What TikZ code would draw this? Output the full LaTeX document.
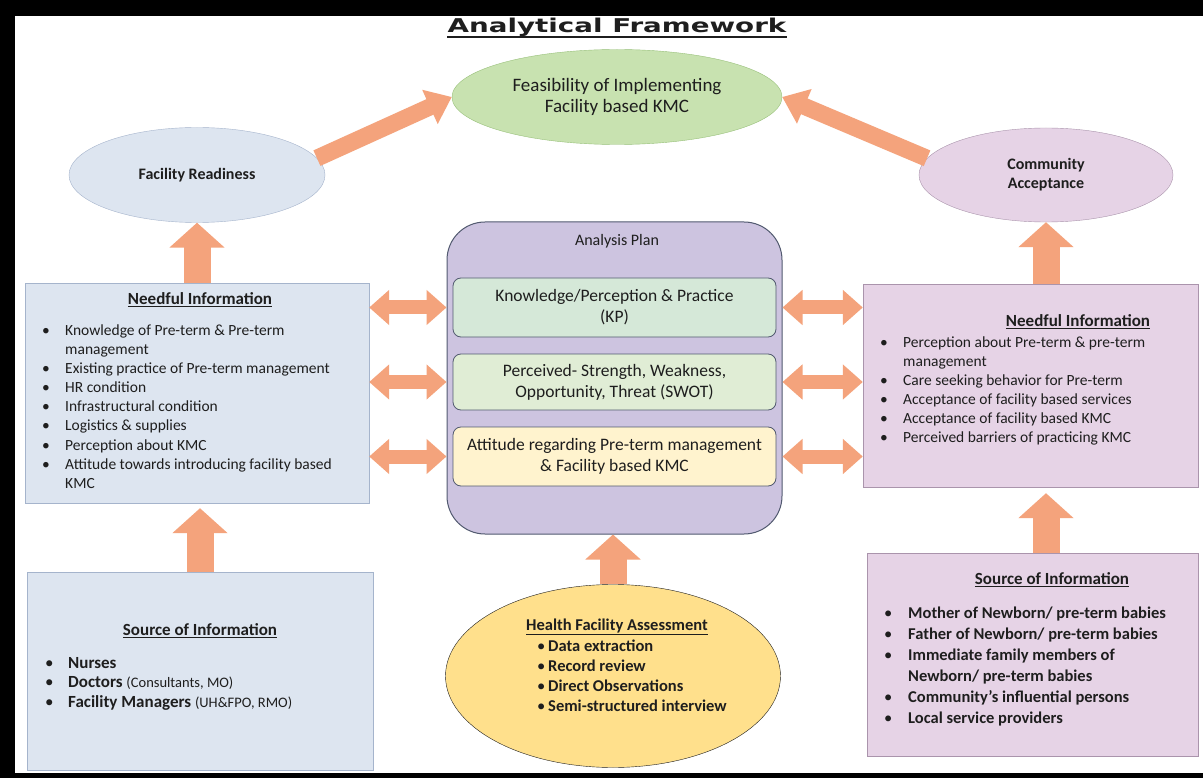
\documentclass[tikz,border=0pt]{standalone}
\usepackage{fontspec}
\setmainfont{Carlito}
\newfontfamily\titlefont{DejaVu Sans}
\usetikzlibrary{shapes.geometric,arrows.meta}

\definecolor{arrowfill}{RGB}{244,163,124}
\definecolor{bluefill}{RGB}{221,229,240}
\definecolor{blueline}{RGB}{165,180,204}
\definecolor{pinkfill}{RGB}{230,211,230}
\definecolor{pinkline}{RGB}{170,148,172}
\definecolor{greenfill}{RGB}{200,226,176}
\definecolor{greenline}{RGB}{152,192,122}
\definecolor{planfill}{RGB}{205,196,224}
\definecolor{planline}{RGB}{82,90,112}
\definecolor{kpfill}{RGB}{213,232,216}
\definecolor{swotfill}{RGB}{224,237,213}
\definecolor{attfill}{RGB}{255,243,206}
\definecolor{hfafill}{RGB}{255,224,140}
\definecolor{txt}{RGB}{30,30,30}

\newcommand{\bitem}[2][23pt]{\makebox[#1][l]{\mdseries\textbullet}#2}
\newcommand{\bcont}[2][23pt]{\hspace*{#1}#2}
\newcommand{\fs}[2]{\fontsize{#1}{#2}\selectfont}

\begin{document}
\begin{tikzpicture}[x=1pt, y=-1pt,
  oval/.style={ellipse, draw, inner sep=0pt, text=txt},
  infobox/.style={rectangle, draw, inner sep=0pt},
  planbox/.style={rectangle, rounded corners=8pt, draw=planline, line width=0.8pt, inner sep=0pt, minimum width=323pt, align=center, text=txt, font=\fs{17.5}{21}},
  words/.style={inner sep=0pt, text=txt},
  uparrow/.style={draw=arrowfill, line width=27pt, -{Triangle[length=25pt, width=54pt]}},
  slantarrow/.style={draw=arrowfill, line width=17pt, -{Triangle[length=24pt, width=36pt]}},
  twoway/.style={draw=arrowfill, line width=14pt, {Triangle[length=20pt, width=34pt]}-{Triangle[length=20pt, width=34pt]}}]

\useasboundingbox (0, 0) rectangle (1203, 778);

\fill[white] (0, 0) rectangle (1203, 778);

\fill[black] (0, 0) rectangle (1203, 16);

\fill[black] (0, 0) rectangle (15, 778);

\fill[black] (0, 773) rectangle (1203, 778);

\draw (617, 33) node[words, anchor=base, font=\titlefont\bfseries\fs{19}{21}] (title) {\scalebox{1.46}[1]{Analytical Framework}};

\draw[txt, line width=2.2pt] ([yshift=-4pt]title.base west) -- ([yshift=-4pt]title.base east);

\draw (617, 97) node[oval, fill=greenfill, draw=greenline, minimum width=330pt, minimum height=95pt, align=center, font=\fs{19}{21}] (feas) {Feasibility of Implementing\\Facility based KMC};

\draw (197, 175) node[oval, fill=bluefill, draw=blueline, minimum width=256pt, minimum height=95pt, font=\bfseries\fs{16}{20}] (fr) {Facility Readiness};

\draw (1046, 175) node[oval, fill=pinkfill, draw=pinkline, minimum width=254pt, minimum height=94pt, align=center, font=\bfseries\fs{16}{19}] (ca) {Community\\Acceptance};

\draw (197, 393) node[infobox, fill=bluefill, draw=blueline, minimum width=344pt, minimum height=220pt] (nl) {};

\draw (200, 671) node[infobox, fill=bluefill, draw=blueline, minimum width=346pt, minimum height=198pt] (sl) {};

\draw (1030.5, 385.5) node[infobox, fill=pinkfill, draw=pinkline, minimum width=335pt, minimum height=203pt] (nr) {};

\draw (1032.5, 654.5) node[infobox, fill=pinkfill, draw=pinkline, minimum width=331pt, minimum height=203pt] (sr) {};

\draw (614.5, 378) node[rectangle, rounded corners=38pt, fill=planfill, draw=planline, line width=1pt, minimum width=335pt, minimum height=312pt] (ap) {};

\draw (617, 241) node[words, font=\fs{16}{19}] (aptitle) {Analysis Plan};

\draw (614.5, 307.5) node[planbox, fill=kpfill, minimum height=59pt] (kp) {Knowledge/Perception \& Practice\\(KP)};

\draw (614.5, 382) node[planbox, fill=swotfill, minimum height=56pt] (swot) {Perceived- Strength, Weakness,\\Opportunity, Threat (SWOT)};

\draw (614.5, 456.5) node[planbox, fill=attfill, minimum height=59pt] (att) {Attitude regarding Pre-term management\\\& Facility based KMC};

\draw (613, 676) node[oval, fill=hfafill, draw=txt, minimum width=335pt, minimum height=183pt] (hfa) {};

\draw (200, 300) node[words, font=\bfseries\fs{17}{20}] (nlhead) {\underline{Needful Information}};

\draw (42, 335) node[words, anchor=base west, font=\fs{15.5}{19.2}] (nllist) {\begin{tabular}[t]{@{}l@{}}
\bitem{Knowledge of Pre-term \& Pre-term}\\
\bcont{management}\\
\bitem{Existing practice of Pre-term management}\\
\bitem{HR condition}\\
\bitem{Infrastructural condition}\\
\bitem{Logistics \& supplies}\\
\bitem{Perception about KMC}\\
\bitem{Attitude towards introducing facility based}\\
\bcont{KMC}
\end{tabular}};

\draw (1078, 322) node[words, font=\bfseries\fs{17}{20}] (nrhead) {\underline{Needful Information}};

\draw (880, 347) node[words, anchor=base west, font=\fs{15.5}{19.2}] (nrlist) {\begin{tabular}[t]{@{}l@{}}
\bitem{Perception about Pre-term \& pre-term}\\
\bcont{management}\\
\bitem{Care seeking behavior for Pre-term}\\
\bitem{Acceptance of facility based services}\\
\bitem{Acceptance of facility based KMC}\\
\bitem{Perceived barriers of practicing KMC}
\end{tabular}};

\draw (200, 631) node[words, font=\bfseries\fs{17}{20}] (slhead) {\underline{Source of Information}};

\draw (45, 668) node[words, anchor=base west, font=\bfseries\fs{17}{19.5}] (sllist) {\begin{tabular}[t]{@{}l@{}}
\bitem{Nurses}\\
\bitem{Doctors {\mdseries\fs{14.5}{19.5}(Consultants, MO)}}\\
\bitem{Facility Managers {\mdseries\fs{14.5}{19.5}(UH\&FPO, RMO)}}
\end{tabular}};

\draw (1052, 580) node[words, font=\bfseries\fs{17}{20}] (srhead) {\underline{Source of Information}};

\draw (884, 618) node[words, anchor=base west, font=\bfseries\fs{16.5}{21}] (srlist) {\begin{tabular}[t]{@{}l@{}}
\bitem[24pt]{Mother of Newborn/ pre-term babies}\\
\bitem[24pt]{Father of Newborn/ pre-term babies}\\
\bitem[24pt]{Immediate family members of}\\
\bcont[24pt]{Newborn/ pre-term babies}\\
\bitem[24pt]{Community’s influential persons}\\
\bitem[24pt]{Local service providers}
\end{tabular}};

\draw (617, 627) node[words, font=\bfseries\fs{16.5}{20}] (hfahead) {\underline{Health Facility Assessment}};

\draw (537, 651) node[words, anchor=base west, font=\bfseries\fs{16.5}{20}] (hfalist) {\begin{tabular}[t]{@{}l@{}}
\bitem[11pt]{Data extraction}\\
\bitem[11pt]{Record review}\\
\bitem[11pt]{Direct Observations}\\
\bitem[11pt]{Semi-structured interview}
\end{tabular}};

\draw[slantarrow] (fr.8) -- (feas.west);

\draw[slantarrow] (ca.172) -- (feas.east);

\draw[uparrow] (nl.north) -- (nl.north |- fr.south);

\draw[uparrow, shorten >=5pt] (sl.north) -- (sl.north |- nl.south);

\draw[uparrow] (ca.south |- nr.north) -- (ca.south);

\draw[uparrow, shorten >=6pt] (ca.south |- sr.north) -- (ca.south |- nr.south);

\draw[uparrow] (hfa.north) -- (hfa.north |- ap.south);

\draw[twoway] (nl.east |- kp) -- (ap.west |- kp);

\draw[twoway] (nl.east |- swot) -- (ap.west |- swot);

\draw[twoway] (nl.east |- att) -- (ap.west |- att);

\draw[twoway] (ap.east |- kp) -- (nr.west |- kp);

\draw[twoway] (ap.east |- swot) -- (nr.west |- swot);

\draw[twoway] (ap.east |- att) -- (nr.west |- att);

\end{tikzpicture}
\end{document}
